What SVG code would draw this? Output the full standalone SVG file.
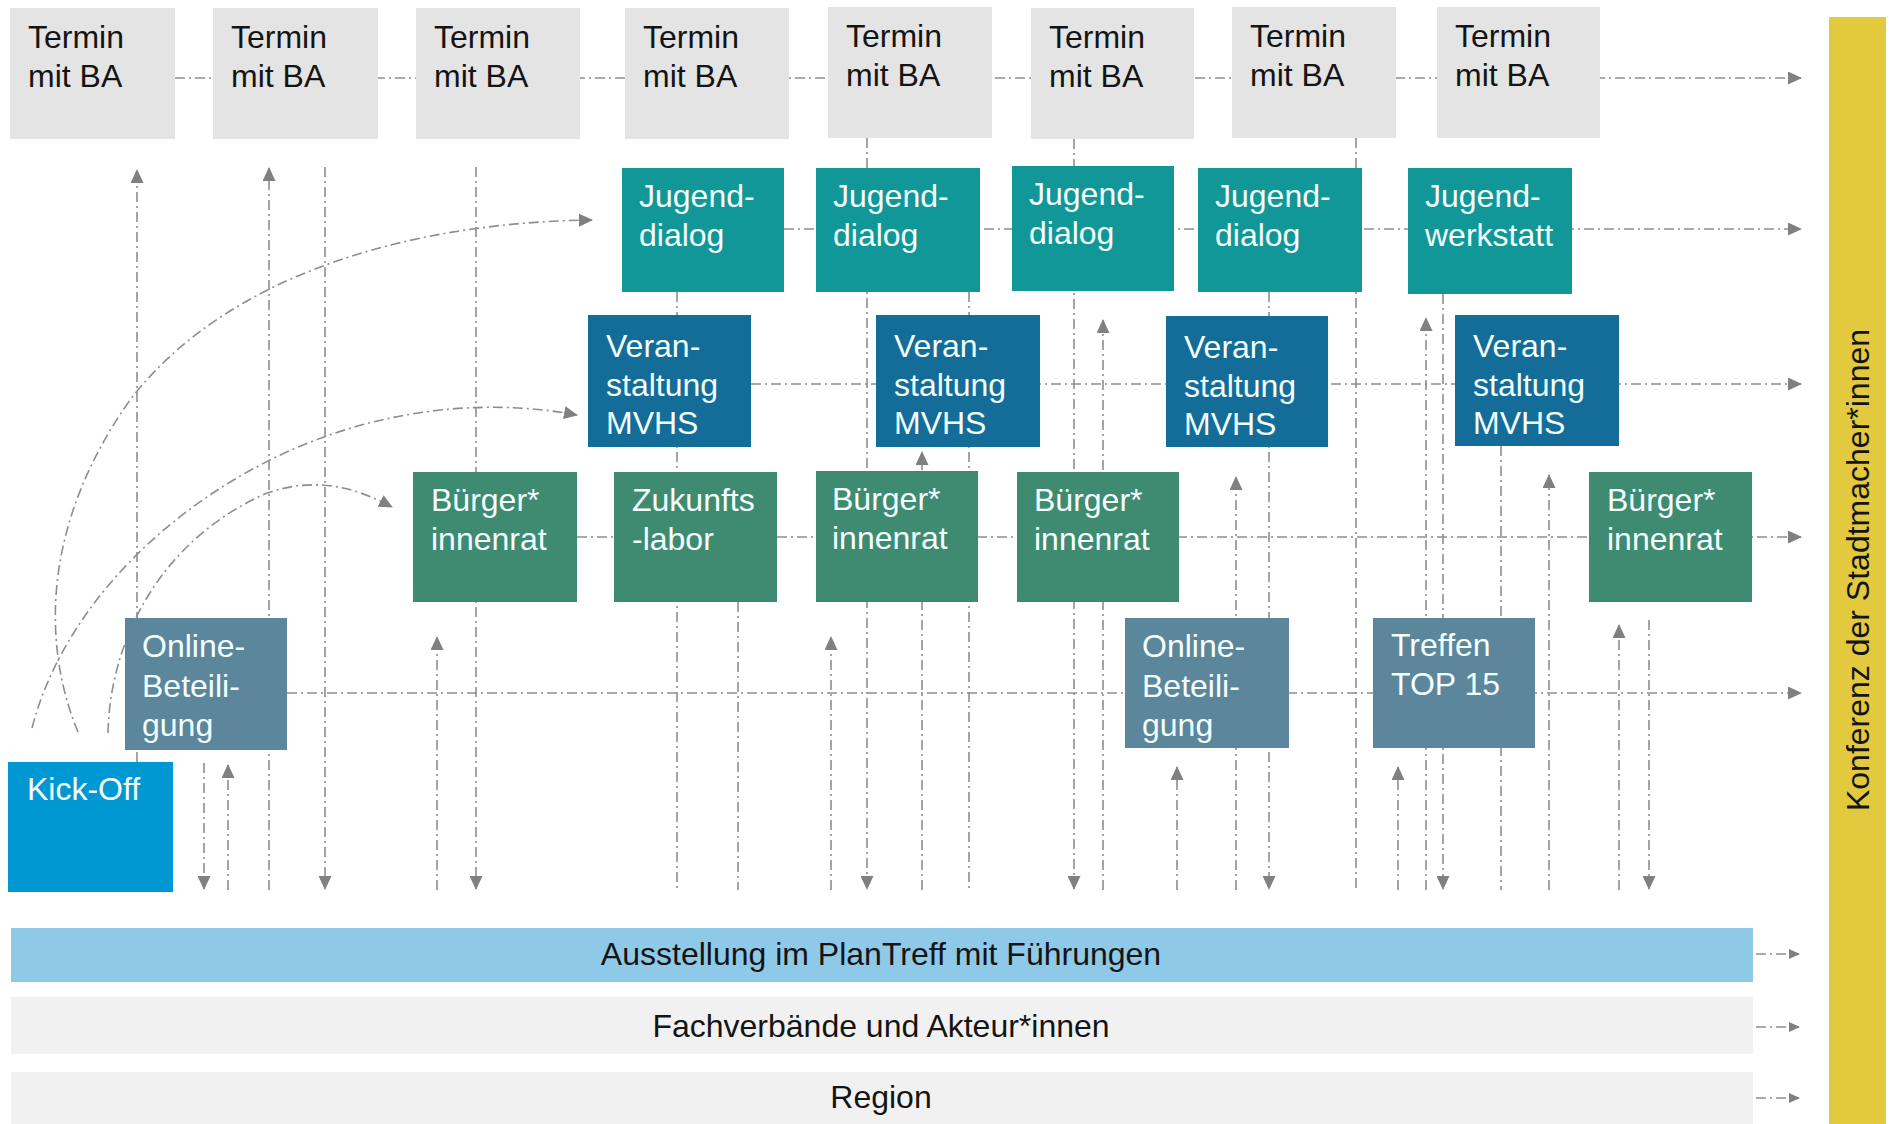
<svg xmlns="http://www.w3.org/2000/svg" width="1894" height="1124" viewBox="0 0 1894 1124">
<defs>
<style>
.c{fill:none;stroke:#8e8e8e;stroke-width:1.6;stroke-dasharray:10 4 2 4}
.a{marker-end:url(#ah)}
.t{font-family:"Liberation Sans",Arial,sans-serif;font-size:32px}
.w{fill:#f4ffff}
.k{fill:#141414}
.tb{fill:#e4e4e4}
.jd{fill:#119797}
.vm{fill:#136d98}
.br{fill:#3f8b72}
.ob{fill:#5c869c}
</style>
<marker id="ah" markerUnits="userSpaceOnUse" markerWidth="14" markerHeight="13" refX="13" refY="6.5" orient="auto"><path d="M0,0L14,6.5L0,13z" fill="#808080"/></marker>
<marker id="sh" markerUnits="userSpaceOnUse" markerWidth="11" markerHeight="10" refX="10" refY="5" orient="auto"><path d="M0,0L11,5L0,10z" fill="#808080"/></marker>
</defs>
<rect width="1894" height="1124" fill="#ffffff"/>

<g id="connectors">
<!-- horizontal rows -->
<line class="c a" x1="175" y1="78" x2="1801" y2="78"/>
<line class="c a" x1="784" y1="229" x2="1801" y2="229"/>
<line class="c a" x1="751" y1="384" x2="1801" y2="384"/>
<line class="c a" x1="577" y1="537" x2="1801" y2="537"/>
<line class="c a" x1="287" y1="693" x2="1801" y2="693"/>
<line class="c" style="marker-end:url(#sh)" x1="1756" y1="954" x2="1799" y2="954"/>
<line class="c" style="marker-end:url(#sh)" x1="1756" y1="1027" x2="1799" y2="1027"/>
<line class="c" style="marker-end:url(#sh)" x1="1756" y1="1098" x2="1799" y2="1098"/>
<!-- curves from Kick-Off -->
<path class="c a" d="M78,732 C40,640 45,520 130,400 C230,270 420,222 592,220"/>
<path class="c a" d="M32,728 C60,620 150,520 270,460 C360,415 470,395 577,415"/>
<path class="c a" d="M108,733 C110,640 160,540 267,493 C320,475 360,490 392,507"/>
<!-- vertical up arrows -->
<line class="c a" x1="137" y1="762" x2="137" y2="170"/>
<line class="c a" x1="228" y1="890" x2="228" y2="765"/>
<line class="c a" x1="269" y1="890" x2="269" y2="168"/>
<line class="c a" x1="437" y1="890" x2="437" y2="637"/>
<line class="c a" x1="831" y1="890" x2="831" y2="637"/>
<line class="c a" x1="922" y1="890" x2="922" y2="452"/>
<line class="c a" x1="1103" y1="890" x2="1103" y2="320"/>
<line class="c a" x1="1177" y1="890" x2="1177" y2="767"/>
<line class="c a" x1="1236" y1="890" x2="1236" y2="477"/>
<line class="c a" x1="1398" y1="890" x2="1398" y2="767"/>
<line class="c a" x1="1426" y1="890" x2="1426" y2="318"/>
<line class="c a" x1="1549" y1="890" x2="1549" y2="475"/>
<line class="c a" x1="1619" y1="890" x2="1619" y2="625"/>
<!-- vertical down arrows -->
<line class="c a" x1="204" y1="763" x2="204" y2="889"/>
<line class="c a" x1="325" y1="167" x2="325" y2="889"/>
<line class="c a" x1="476" y1="167" x2="476" y2="889"/>
<line class="c a" x1="867" y1="138" x2="867" y2="889"/>
<line class="c a" x1="1074" y1="139" x2="1074" y2="889"/>
<line class="c a" x1="1269" y1="292" x2="1269" y2="889"/>
<line class="c a" x1="1443" y1="294" x2="1443" y2="889"/>
<line class="c a" x1="1649" y1="620" x2="1649" y2="889"/>
<!-- vertical plain -->
<line class="c" x1="677" y1="292" x2="677" y2="890"/>
<line class="c" x1="738" y1="602" x2="738" y2="890"/>
<line class="c" x1="969" y1="292" x2="969" y2="890"/>
<line class="c" x1="1356" y1="138" x2="1356" y2="890"/>
<line class="c" x1="1501" y1="446" x2="1501" y2="890"/>
</g>

<!-- Termin mit BA row -->
<g id="termin1"><rect class="tb" x="10" y="8" width="165" height="131"/><text class="t k" x="28" y="48">Termin</text><text class="t k" x="28" y="87">mit BA</text></g>
<g id="termin2"><rect class="tb" x="213" y="8" width="165" height="131"/><text class="t k" x="231" y="48">Termin</text><text class="t k" x="231" y="87">mit BA</text></g>
<g id="termin3"><rect class="tb" x="416" y="8" width="164" height="131"/><text class="t k" x="434" y="48">Termin</text><text class="t k" x="434" y="87">mit BA</text></g>
<g id="termin4"><rect class="tb" x="625" y="8" width="164" height="131"/><text class="t k" x="643" y="48">Termin</text><text class="t k" x="643" y="87">mit BA</text></g>
<g id="termin5"><rect class="tb" x="828" y="7" width="164" height="131"/><text class="t k" x="846" y="47">Termin</text><text class="t k" x="846" y="86">mit BA</text></g>
<g id="termin6"><rect class="tb" x="1031" y="8" width="163" height="131"/><text class="t k" x="1049" y="48">Termin</text><text class="t k" x="1049" y="87">mit BA</text></g>
<g id="termin7"><rect class="tb" x="1232" y="7" width="164" height="131"/><text class="t k" x="1250" y="47">Termin</text><text class="t k" x="1250" y="86">mit BA</text></g>
<g id="termin8"><rect class="tb" x="1437" y="7" width="163" height="131"/><text class="t k" x="1455" y="47">Termin</text><text class="t k" x="1455" y="86">mit BA</text></g>

<!-- Jugend row -->
<g id="jugend1"><rect class="jd" x="622" y="168" width="162" height="124"/><text class="t w" x="639" y="207">Jugend-</text><text class="t w" x="639" y="246">dialog</text></g>
<g id="jugend2"><rect class="jd" x="816" y="168" width="164" height="124"/><text class="t w" x="833" y="207">Jugend-</text><text class="t w" x="833" y="246">dialog</text></g>
<g id="jugend3"><rect class="jd" x="1012" y="166" width="162" height="125"/><text class="t w" x="1029" y="205">Jugend-</text><text class="t w" x="1029" y="244">dialog</text></g>
<g id="jugend4"><rect class="jd" x="1198" y="168" width="164" height="124"/><text class="t w" x="1215" y="207">Jugend-</text><text class="t w" x="1215" y="246">dialog</text></g>
<g id="jugendwerkstatt"><rect class="jd" x="1408" y="168" width="164" height="126"/><text class="t w" x="1425" y="207">Jugend-</text><text class="t w" x="1425" y="246">werkstatt</text></g>

<!-- Veranstaltung row -->
<g id="veran1"><rect class="vm" x="588" y="315" width="163" height="132"/><text class="t w" x="606" y="357">Veran-</text><text class="t w" x="606" y="396">staltung</text><text class="t w" x="606" y="434">MVHS</text></g>
<g id="veran2"><rect class="vm" x="876" y="315" width="164" height="132"/><text class="t w" x="894" y="357">Veran-</text><text class="t w" x="894" y="396">staltung</text><text class="t w" x="894" y="434">MVHS</text></g>
<g id="veran3"><rect class="vm" x="1166" y="316" width="162" height="131"/><text class="t w" x="1184" y="358">Veran-</text><text class="t w" x="1184" y="397">staltung</text><text class="t w" x="1184" y="435">MVHS</text></g>
<g id="veran4"><rect class="vm" x="1455" y="315" width="164" height="131"/><text class="t w" x="1473" y="357">Veran-</text><text class="t w" x="1473" y="396">staltung</text><text class="t w" x="1473" y="434">MVHS</text></g>

<!-- Bürger row -->
<g id="buerger1"><rect class="br" x="413" y="472" width="164" height="130"/><text class="t w" x="431" y="511">Bürger*</text><text class="t w" x="431" y="550">innenrat</text></g>
<g id="zukunftslabor"><rect class="br" x="614" y="472" width="163" height="130"/><text class="t w" x="632" y="511">Zukunfts</text><text class="t w" x="632" y="550">-labor</text></g>
<g id="buerger2"><rect class="br" x="816" y="471" width="162" height="131"/><text class="t w" x="832" y="510">Bürger*</text><text class="t w" x="832" y="549">innenrat</text></g>
<g id="buerger3"><rect class="br" x="1017" y="472" width="162" height="130"/><text class="t w" x="1034" y="511">Bürger*</text><text class="t w" x="1034" y="550">innenrat</text></g>
<g id="buerger4"><rect class="br" x="1589" y="472" width="163" height="130"/><text class="t w" x="1607" y="511">Bürger*</text><text class="t w" x="1607" y="550">innenrat</text></g>

<!-- Online row -->
<g id="online1"><rect class="ob" x="125" y="618" width="162" height="132"/><text class="t w" x="142" y="657">Online-</text><text class="t w" x="142" y="697">Beteili-</text><text class="t w" x="142" y="736">gung</text></g>
<g id="online2"><rect class="ob" x="1125" y="618" width="164" height="130"/><text class="t w" x="1142" y="657">Online-</text><text class="t w" x="1142" y="697">Beteili-</text><text class="t w" x="1142" y="736">gung</text></g>
<g id="treffen"><rect class="ob" x="1373" y="618" width="162" height="130"/><text class="t w" x="1391" y="656">Treffen</text><text class="t w" x="1391" y="695">TOP 15</text></g>

<g id="kickoff"><rect fill="#0098d2" x="8" y="762" width="165" height="130"/><text class="t w" x="27" y="800">Kick-Off</text></g>

<!-- bottom bars -->
<g id="ausstellung"><rect fill="#8ec9e8" x="11" y="928" width="1742" height="54"/><text class="t k" x="881" y="965" text-anchor="middle">Ausstellung im PlanTreff mit Führungen</text></g>
<g id="fachverbaende"><rect fill="#f1f1f1" x="11" y="997" width="1742" height="57"/><text class="t k" x="881" y="1037" text-anchor="middle">Fachverbände und Akteur*innen</text></g>
<g id="region"><rect fill="#f1f1f1" x="11" y="1072" width="1742" height="60"/><text class="t k" x="881" y="1108" text-anchor="middle">Region</text></g>

<g id="konferenz"><rect fill="#e2c93d" x="1829" y="17" width="57" height="1110"/><text class="t k" x="0" y="0" text-anchor="middle" transform="translate(1869,570) rotate(-90)">Konferenz der Stadtmacher*innen</text></g>
</svg>
